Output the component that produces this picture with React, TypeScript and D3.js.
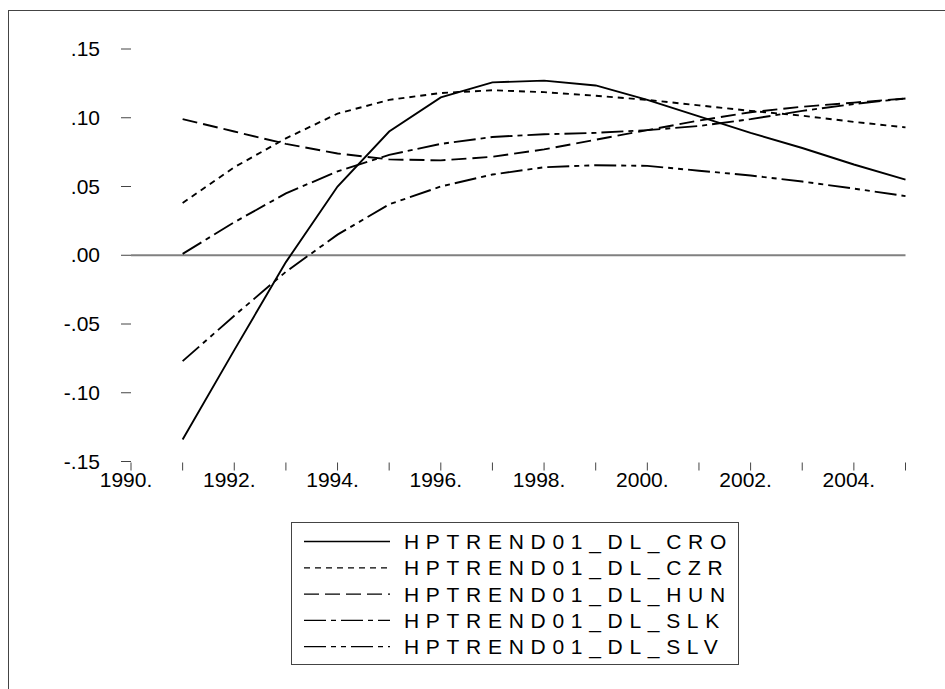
import React from "react";
import * as d3 from "d3";

const years = [1991, 1992, 1993, 1994, 1995, 1996, 1997, 1998, 1999, 2000, 2001, 2002, 2003, 2004, 2005];
const cro = [-0.134, -0.069, -0.005, 0.05, 0.09, 0.1148, 0.1257, 0.127, 0.1235, 0.113, 0.101, 0.089, 0.078, 0.066, 0.055];
const czr = [0.038, 0.064, 0.085, 0.103, 0.113, 0.118, 0.12, 0.1186, 0.116, 0.113, 0.109, 0.105, 0.1015, 0.097, 0.093];
const hun = [0.099, 0.09, 0.081, 0.074, 0.0697, 0.069, 0.0716, 0.077, 0.084, 0.091, 0.098, 0.104, 0.108, 0.111, 0.114];
const slk = [0.001, 0.024, 0.045, 0.061, 0.073, 0.081, 0.086, 0.088, 0.089, 0.091, 0.094, 0.099, 0.105, 0.11, 0.114];
const slv = [-0.077, -0.044, -0.012, 0.015, 0.037, 0.05, 0.0587, 0.064, 0.0655, 0.065, 0.0615, 0.058, 0.0536, 0.0485, 0.043];

const seriesNames = ["HPTREND01_DL_CRO", "HPTREND01_DL_CZR", "HPTREND01_DL_HUN", "HPTREND01_DL_SLK", "HPTREND01_DL_SLV"];
const seriesValues = [cro, czr, hun, slk, slv];
const dashes = ["none", "6,5", "15,6", "22,5,5,5", "22,5,5,5,5,5"];

const yTicks = [0.15, 0.1, 0.05, 0.0, -0.05, -0.1, -0.15];
const yTickLabels = [".15", ".10", ".05", ".00", "-.05", "-.10", "-.15"];
const xTickYears = d3.range(1990, 2006);
const xLabelYears = [1990, 1992, 1994, 1996, 1998, 2000, 2002, 2004];

const FONT = "'Liberation Sans', Arial, sans-serif";

export default function App() {
  const x = d3.scaleLinear().domain([1990, 2005]).range([131, 905.5]);
  const y = d3.scaleLinear().domain([-0.15, 0.15]).range([461.5, 49]);
  const line = d3
    .line<[number, number]>()
    .x((d) => x(d[0]))
    .y((d) => y(d[1]));

  const legX = 291;
  const legY = 522;
  const legW = 447;
  const legH = 142;
  const rowY0 = 541.5;
  const rowStep = 26.3;

  return (
    <svg
      width={945}
      height={689}
      style={{ position: "absolute", left: 0, top: 0, background: "#fff" }}
    >
      <rect x={0} y={0} width={945} height={689} fill="#fff" />
      <rect x={8.5} y={10.5} width={1000} height={800} fill="none" stroke="#444" strokeWidth={1} />

      {/* zero line */}
      <line x1={x(1990)} x2={x(2005)} y1={y(0)} y2={y(0)} stroke="#808080" strokeWidth={2} />

      {/* y ticks */}
      {yTicks.map((t, i) => (
        <g key={"yt" + i}>
          <line x1={x(1990) - 10} x2={x(1990)} y1={y(t)} y2={y(t)} stroke="#444" strokeWidth={1} />
          <text
            x={100}
            y={y(t) + 7}
            textAnchor="end"
            fontFamily={FONT}
            fontSize={21}
            fill="#000"
          >
            {yTickLabels[i]}
          </text>
        </g>
      ))}

      {/* x ticks */}
      {xTickYears.map((yr) => (
        <line key={"xt" + yr} x1={x(yr)} x2={x(yr)} y1={y(-0.15) + 1} y2={y(-0.15) + 9} stroke="#444" strokeWidth={1} />
      ))}
      {xLabelYears.map((yr) => (
        <text key={"xl" + yr} x={x(yr) - 5} y={487} textAnchor="middle" fontFamily={FONT} fontSize={21} fill="#000">
          {yr + "."}
        </text>
      ))}

      {/* series */}
      {seriesValues.map((vals, i) => (
        <path
          key={"s" + i}
          d={line(years.map((yr, j) => [yr, vals[j]] as [number, number])) || ""}
          fill="none"
          stroke="#000"
          strokeWidth={1.9}
          strokeDasharray={dashes[i]}
        />
      ))}

      {/* legend */}
      <rect x={legX + 0.5} y={legY + 0.5} width={legW} height={legH} fill="#fff" stroke="#444" strokeWidth={1} />
      {seriesNames.map((name, i) => {
        const cy = rowY0 + i * rowStep;
        return (
          <g key={"lg" + i}>
            <line x1={304} x2={390} y1={cy} y2={cy} stroke="#000" strokeWidth={1.3} strokeDasharray={dashes[i]} />
            <text x={404} y={cy + 7.5} fontFamily={FONT} fontSize={21} letterSpacing={6.7} fill="#000">
              {name}
            </text>
          </g>
        );
      })}
    </svg>
  );
}
